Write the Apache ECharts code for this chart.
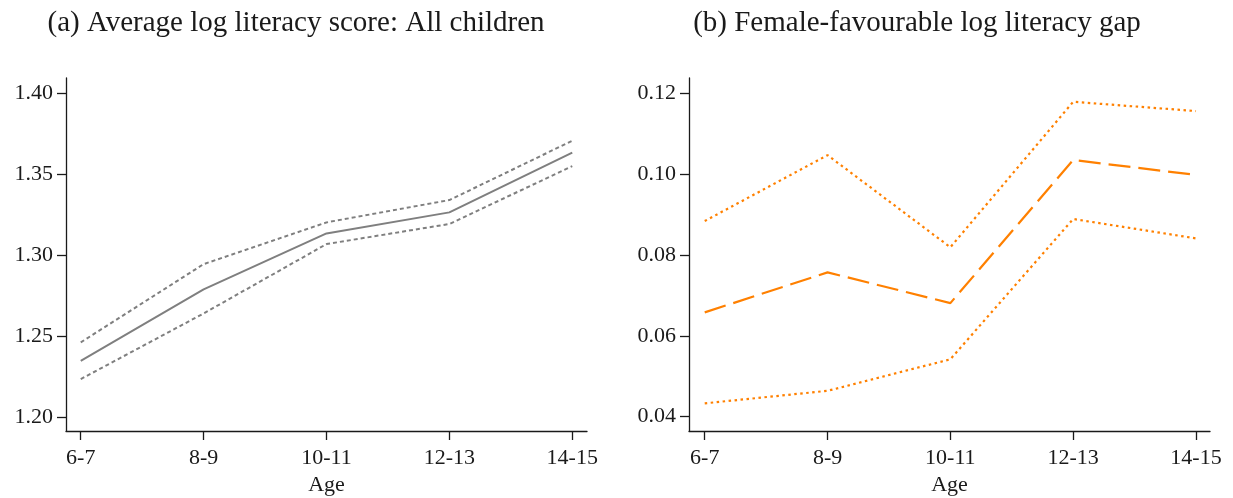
<!DOCTYPE html>
<html>
<head>
<meta charset="utf-8">
<script src="https://cdn.jsdelivr.net/npm/echarts@6/dist/echarts.min.js"></script>
<style>
  html, body { margin: 0; padding: 0; background: #fff; }
  #chart { width: 1233px; height: 498px; }
</style>
</head>
<body>
<div id="chart"></div>
<script>
// Age groups along the horizontal axis
const ageGroups = ['6-7', '8-9', '10-11', '12-13', '14-15'];

// Panel (a): average log literacy score, all children, with confidence band
const avgScore = [1.2346, 1.2788, 1.3134, 1.3264, 1.3633];
const avgUpper = [1.2460, 1.2944, 1.3202, 1.3340, 1.3707];
const avgLower = [1.2233, 1.2639, 1.3068, 1.3192, 1.3550];
const avgTicks = [1.20, 1.25, 1.30, 1.35, 1.40];

// Panel (b): female-favourable log literacy gap, with confidence band
const gapMean  = [0.0658, 0.0757, 0.0681, 0.1035, 0.0998];
const gapUpper = [0.0884, 0.1047, 0.0819, 0.1179, 0.1156];
const gapLower = [0.0433, 0.0464, 0.0542, 0.0889, 0.0841];
const gapTicks = [0.04, 0.06, 0.08, 0.10, 0.12];

const FONT = "'Liberation Serif', 'DejaVu Serif', serif";
const INK = '#1a1a1a';
const GREY = '#7f7f7f';
const ORANGE = '#ff8000';
const xIdx = ageGroups.map((_, i) => i);

function pts(values) {
  return values.map((v, i) => [i, v]);
}

function xAxisFor(gridIndex, min, max) {
  return {
    type: 'value', gridIndex, min, max,
    name: 'Age', nameLocation: 'middle', nameGap: 41,
    nameTextStyle: { fontFamily: FONT, fontSize: 22, color: INK },
    axisLine: { show: true, onZero: false, lineStyle: { color: INK, width: 1.3 } },
    axisTick: { show: true, length: 9, customValues: xIdx, lineStyle: { color: INK, width: 1.3 } },
    axisLabel: {
      customValues: xIdx, margin: 16,
      fontFamily: FONT, fontSize: 22, color: INK,
      formatter: v => ageGroups[Math.round(v)]
    },
    splitLine: { show: false }
  };
}

function yAxisFor(gridIndex, min, max, ticks) {
  return {
    type: 'value', gridIndex, min, max,
    axisLine: { show: true, onZero: false, lineStyle: { color: INK, width: 1.3 } },
    axisTick: { show: true, length: 9, customValues: ticks, lineStyle: { color: INK, width: 1.3 } },
    axisLabel: {
      customValues: ticks, margin: 13,
      fontFamily: FONT, fontSize: 22, color: INK,
      formatter: v => v.toFixed(2)
    },
    splitLine: { show: false }
  };
}

function line(name, xAxisIndex, yAxisIndex, values, color, type, width) {
  return {
    name, type: 'line', xAxisIndex, yAxisIndex,
    data: pts(values), symbol: 'none', silent: true,
    lineStyle: { color, type, width },
    z: 3
  };
}

const chart = echarts.init(document.getElementById('chart'), null, { renderer: 'canvas' });

chart.setOption({
  animation: false,
  backgroundColor: '#fff',
  title: [
    {
      text: '(a) Average log literacy score: All children',
      left: 291, top: 4, textAlign: 'center',
      textStyle: { fontFamily: FONT, fontSize: 29, fontWeight: 'normal', color: INK }
    },
    {
      text: '(b) Female-favourable log literacy gap',
      left: 912, top: 4, textAlign: 'center',
      textStyle: { fontFamily: FONT, fontSize: 29, fontWeight: 'normal', color: INK }
    }
  ],
  grid: [
    { left: 66, top: 78, width: 521, height: 353, outerBoundsMode: 'none', containLabel: false },
    { left: 689, top: 78, width: 521, height: 353, outerBoundsMode: 'none', containLabel: false }
  ],
  xAxis: [
    xAxisFor(0, -0.12, 4.12),
    xAxisFor(1, -0.128, 4.114)
  ],
  yAxis: [
    yAxisFor(0, 1.1912, 1.4095, avgTicks),
    yAxisFor(1, 0.03646, 0.12378, gapTicks)
  ],
  series: [
    line('Upper bound', 0, 0, avgUpper, GREY, [4, 3], 2),
    line('Average', 0, 0, avgScore, GREY, 'solid', 2),
    line('Lower bound', 0, 0, avgLower, GREY, [4, 3], 2),
    line('Upper bound', 1, 1, gapUpper, ORANGE, [2.5, 3.5], 2.2),
    line('Gap', 1, 1, gapMean, ORANGE, [22, 8], 2.2),
    line('Lower bound', 1, 1, gapLower, ORANGE, [2.5, 3.5], 2.2)
  ]
});
</script>
</body>
</html>
